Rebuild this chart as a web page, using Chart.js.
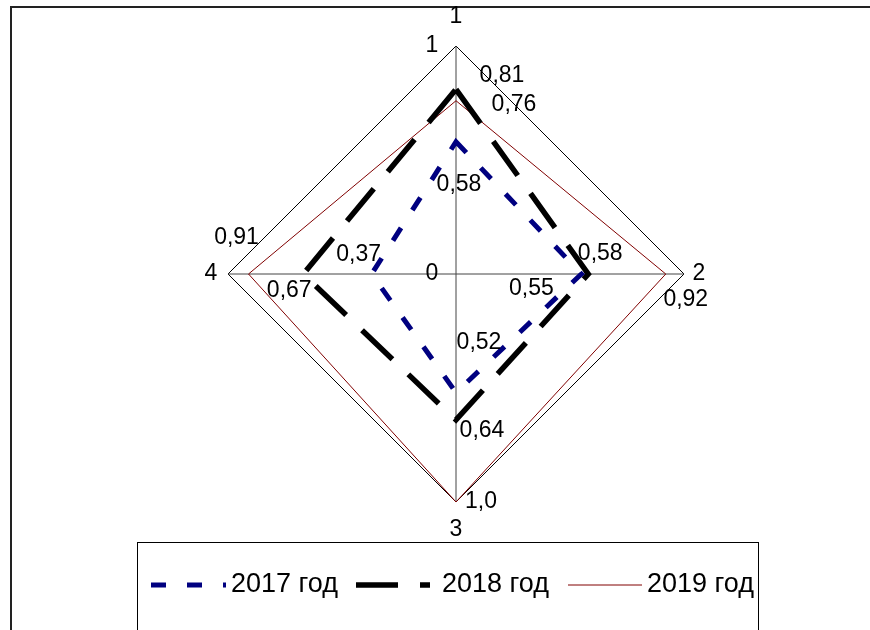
<!DOCTYPE html>
<html>
<head>
<meta charset="utf-8">
<script src="https://cdn.jsdelivr.net/npm/chart.js@4/dist/chart.umd.min.js"></script>
<style>
    html, body { margin: 0; padding: 0; background: #fff; }
    #wrap { position: relative; width: 870px; height: 630px; overflow: hidden; }
    canvas { position: absolute; left: 0; top: 0; }
</style>
</head>
<body>
<div id="wrap"><canvas id="radarChart" width="870" height="630"></canvas></div>
<script>
// --- Chart data ---
const axisNames = ['1', '2', '3', '4'];
const seriesNames = ['2017 год', '2018 год', '2019 год'];
const values2017 = [0.58, 0.55, 0.52, 0.37];
const values2018 = [0.81, 0.58, 0.64, 0.67];
const values2019 = [0.76, 0.92, 1.0, 0.91];
const tickValues = [0, 1];

// label offsets from each point (px), per series
const labelOffsets = [
    [[3, 43], [-50, 15], [23, -50], [-13, -19]],
    [[46, -14], [12, -20], [26, 11], [-14, 17]],
    [[58, 4], [20, 26], [25, 0], [-12, -36]]
];
// extra distance of axis names beyond the outer ring
const axisNamePad = [29, 15, 28, 17];

const FONT = '"Liberation Sans", Arial, sans-serif';

function fmt(v) {
    if (v === 1) return '1,0';
    return v.toFixed(2).replace('.', ',');
}

// --- Frame, axis names, tick labels, value labels, legend ---
const decorPlugin = {
    id: 'decor',
    beforeDraw(chart) {
        const ctx = chart.ctx;
        ctx.save();
        ctx.strokeStyle = '#222';
        ctx.lineWidth = 2;
        ctx.beginPath();
        ctx.moveTo(11, 630);
        ctx.lineTo(11, 7);
        ctx.lineTo(870, 7);
        ctx.stroke();
        ctx.restore();
    },
    afterDatasetsDraw(chart) {
        const ctx = chart.ctx;
        const scale = chart.scales.r;
        ctx.save();
        ctx.fillStyle = '#000';
        ctx.font = '23px ' + FONT;
        ctx.textAlign = 'center';
        ctx.textBaseline = 'middle';

        // axis names
        const outer = scale.getDistanceFromCenterForValue(scale.max);
        axisNames.forEach((name, i) => {
            const p = scale.getPointPosition(i, outer + axisNamePad[i]);
            ctx.fillText(name, p.x, p.y);
        });

        // tick labels, left of the vertical axis
        tickValues.forEach(v => {
            const d = scale.getDistanceFromCenterForValue(v);
            ctx.fillText(String(v), scale.xCenter - 24, scale.yCenter - d);
        });

        // value labels
        chart.data.datasets.forEach((ds, i) => {
            const meta = chart.getDatasetMeta(i);
            meta.data.forEach((pt, j) => {
                const off = labelOffsets[i][j];
                ctx.fillText(fmt(ds.data[j]), pt.x + off[0], pt.y + off[1]);
            });
        });

        // legend
        const lg = { left: 137, top: 542, right: 758, y: 585 };
        ctx.strokeStyle = '#000';
        ctx.lineWidth = 1;
        ctx.strokeRect(lg.left + 0.5, lg.top + 0.5, lg.right - lg.left, 120);
        const items = [
            { x: 151, len: 75, tx: 231 },
            { x: 356, len: 74, tx: 442 },
            { x: 568, len: 74, tx: 647 }
        ];
        ctx.font = '27px ' + FONT;
        ctx.textAlign = 'left';
        chart.data.datasets.forEach((ds, i) => {
            const it = items[i];
            ctx.save();
            ctx.strokeStyle = ds.borderColor;
            ctx.lineWidth = ds.borderWidth;
            ctx.setLineDash(ds.borderDash || []);
            ctx.beginPath();
            ctx.moveTo(it.x, lg.y);
            ctx.lineTo(it.x + it.len, lg.y);
            ctx.stroke();
            ctx.restore();
            ctx.fillText(ds.label, it.tx, lg.y);
        });
        ctx.restore();
    }
};

const ctx = document.getElementById('radarChart').getContext('2d');
new Chart(ctx, {
    type: 'radar',
    data: {
        labels: axisNames,
        datasets: [
            {
                label: seriesNames[0],
                data: values2017,
                borderColor: '#000080',
                borderWidth: 5,
                borderDash: [15, 21],
                pointRadius: 0,
                fill: false
            },
            {
                label: seriesNames[1],
                data: values2018,
                borderColor: '#000000',
                borderWidth: 5.5,
                borderDash: [42, 22],
                pointRadius: 0,
                fill: false
            },
            {
                label: seriesNames[2],
                data: values2019,
                borderColor: '#800000',
                borderWidth: 1,
                pointRadius: 0,
                fill: false
            }
        ]
    },
    options: {
        responsive: false,
        animation: false,
        devicePixelRatio: 1,
        layout: { padding: { left: 228, right: 186, top: 46, bottom: 128 } },
        scales: {
            r: {
                min: 0,
                max: 1,
                ticks: { display: false, stepSize: 1 },
                grid: { color: '#000', lineWidth: 1 },
                angleLines: { color: '#444', lineWidth: 1 },
                pointLabels: { display: false }
            }
        },
        plugins: {
            legend: { display: false },
            tooltip: { enabled: false }
        }
    },
    plugins: [decorPlugin]
});
</script>
</body>
</html>
